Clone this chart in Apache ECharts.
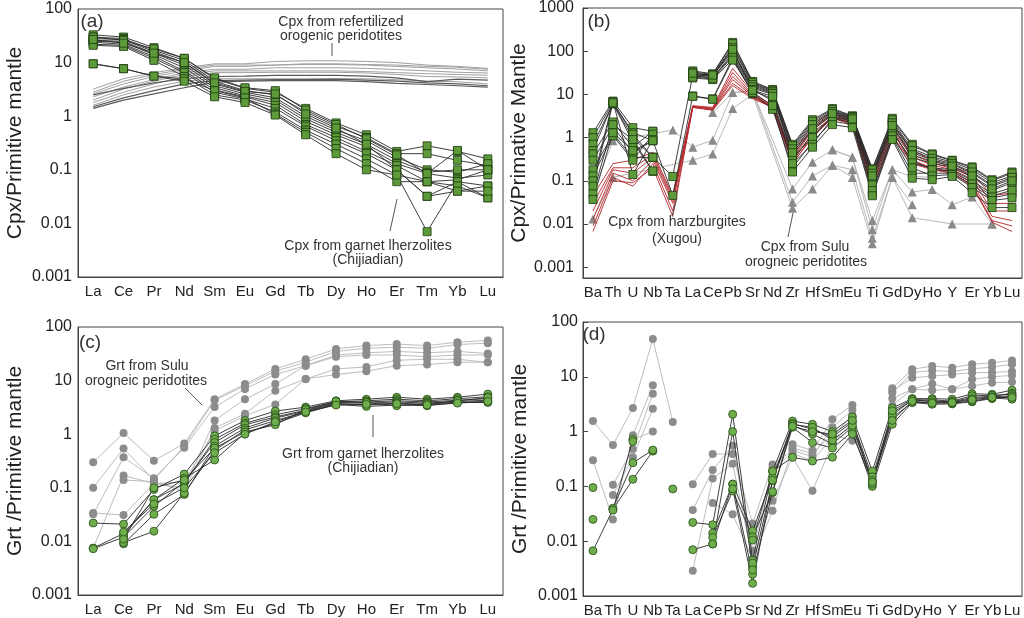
<!DOCTYPE html>
<html><head><meta charset="utf-8">
<script src="https://cdn.jsdelivr.net/npm/echarts@6/dist/echarts.min.js"></script>
<style>html,body{margin:0;padding:0;background:#fff}#c{width:1024px;height:618px}</style>
</head><body><div id="c"></div>
<script>
const REE = ['La','Ce','Pr','Nd','Sm','Eu','Gd','Tb','Dy','Ho','Er','Tm','Yb','Lu'];
const TRACE = ['Ba','Th','U','Nb','Ta','La','Ce','Pb','Sr','Nd','Zr','Hf','Sm','Eu','Ti','Gd','Dy','Ho','Y','Er','Yb','Lu'];

// (a) Cpx REE
const aRefertilized = [
  [3.2,5,6.5,8,9.5,9.5,10.5,10.8,10.8,10.5,10,9,8.5,7.8],
  [2.6,4,5.5,7,8.5,8.5,9,9.2,9.2,9,8.5,8,7.6,7],
  [2.3,3.5,4.8,6.5,7.5,7.5,8,8,8,7.8,7.4,7,6.6,6.4],
  [2.0,3.2,4.5,6,7,7,7,7,7,6.8,6.5,6.2,6,5.8],
  [1.8,2.8,4,5.5,6.5,6.5,6.6,6.6,6.6,6.4,6,5.5,5.4,5.2],
  [2.8,4.5,6,7.5,9,9,9,9.5,9.5,9.2,9,8.5,8.2,7.5],
  [1.6,2.5,3.5,4.5,5,5,5,5,5,5,4.8,4.5,4.4,4]
];
const aRefertilizedDark = [
  [2.5,3.3,4.2,5,5.5,5.6,5.8,5.8,5.8,5.6,5.2,4.4,4.9,4.7],
  [1.5,2.2,3,4,4.6,4.7,4.8,4.8,4.9,4.7,4.5,4.2,4,3.7],
  [1.4,2,2.6,3.4,4.3,4.5,4.6,4.6,4.6,4.4,4.1,3.9,3.7,3.5]
];
const aChijiadian = [
  [33,30,19,12,5,3.3,2.8,1.4,0.75,0.45,0.22,0.28,0.22,0.16],
  [30,28,17,11,4.5,3,2.5,1.2,0.65,0.4,0.2,0.2,0.15,0.12],
  [28,27,16,10,4,2.8,2.2,1.0,0.55,0.35,0.17,0.1,0.09,0.13],
  [26,25,15,9,3.7,2.6,2.0,0.9,0.5,0.3,0.15,0.09,0.1,0.1],
  [25,24,14,8,3.4,2.4,1.8,0.8,0.45,0.27,0.13,0.085,0.07,0.08],
  [24,22,13,7,3.1,2.3,1.6,0.7,0.4,0.22,0.12,0.06,0.065,0.1],
  [22,21,12,6.5,2.8,2.1,1.4,0.65,0.35,0.2,0.1,0.032,0.06,0.05],
  [21,20,11,5.5,2.5,2.0,1.2,0.55,0.3,0.16,0.08,0.007,0.06,0.03],
  [30,26,18,12,5.2,3.4,3.0,1.3,0.7,0.38,0.19,0.085,0.23,0.1],
  [27,23,15,10,4.2,2.9,2.6,1.1,0.6,0.3,0.1,0.032,0.04,0.05],
  [9.5,7.7,5.6,5,3,2.2,1.1,0.5,0.25,0.13,0.06,0.06,0.05,0.03],
  [9.5,7.7,5.6,4.5,2.3,1.8,1.05,0.45,0.2,0.1,0.08,0.06,0.04,0.04]
];

// (b) Cpx trace elements
const bXugou = [
  [0.045,0.25,0.3,0.46,0.045,5.5,5,40,11,5.5,0.42,2.0,4.0,2.8,0.126,2.0,0.5,0.3,0.21,0.15,0.045,0.053],
  [0.03,0.2,0.2,0.4,0.04,5.3,4.8,32,10,5.3,0.35,1.7,3.6,2.5,0.11,1.7,0.4,0.26,0.19,0.13,0.03,0.03],
  [0.02,0.18,0.15,0.35,0.035,5.2,4.6,26,9.5,5.2,0.32,1.5,3.3,2.3,0.1,1.5,0.35,0.23,0.18,0.11,0.02,0.02],
  [0.013,0.15,0.1,0.3,0.03,5.0,4.5,22,9,5.0,0.28,1.3,3.0,2.2,0.085,1.3,0.3,0.2,0.16,0.09,0.015,0.012],
  [0.009,0.12,0.075,0.25,0.02,5.1,4.4,18,8.5,5.1,0.25,1.1,2.8,2.0,0.07,1.1,0.27,0.19,0.15,0.08,0.012,0.009],
  [0.0067,0.1,0.09,0.2,0.015,5.0,4.3,16,8,5.0,0.26,1.0,2.9,2.1,0.063,1.0,0.25,0.18,0.15,0.075,0.011,0.0067]
];
const bSulu = [
  [0.013,0.12,null,null,null,0.3,0.42,4.7,10,null,0.023,0.065,0.23,0.12,0.0035,0.12,0.014,null,0.01,null,0.01,null],
  [0.055,0.84,null,null,1.5,0.6,0.87,11,12,null,0.032,0.13,0.23,0.18,0.0047,0.12,0.028,null,null,null,null,null],
  [null,null,null,null,null,null,3.8,11,12,null,0.065,0.27,0.52,0.35,0.012,0.18,0.126,0.12,null,null,null,null],
  [null,null,null,null,null,null,null,null,null,null,null,null,0.52,0.35,0.0075,0.18,0.055,0.063,0.028,0.042,0.01,null]
];
const bChijiadian = [
  [1.3,7,1.7,1.4,null,35,30,160,20,13,0.7,2.6,4.7,3.2,0.19,2.8,0.7,0.42,0.3,0.21,0.106,0.16],
  [1.0,6.5,1.3,0.85,null,30,28,130,18,12,0.6,2.2,4.2,3.0,0.16,2.4,0.55,0.36,0.27,0.18,0.09,0.13],
  [0.7,6,1.0,0.35,0.126,28,27,100,16,11,0.5,1.8,3.8,2.8,0.14,2.1,0.45,0.3,0.24,0.15,0.075,0.11],
  [0.5,6.2,0.8,0.165,null,26,25,80,14,10,0.4,1.5,3.4,2.6,0.12,1.8,0.35,0.25,0.21,0.12,0.06,0.09],
  [0.42,2.3,0.6,1.4,null,24,22,65,12,8,0.3,1.2,3.0,2.4,0.1,1.5,0.25,0.2,0.18,0.1,0.05,0.07],
  [0.3,1.8,0.45,0.85,0.046,9.2,7.9,70,10.5,4.5,0.2,0.8,2.4,2.0,0.05,1.0,0.15,0.15,0.15,0.08,0.04,0.05],
  [0.18,1.2,0.35,0.35,null,33,29,150,19,12.5,0.65,2.4,4.5,3.1,0.18,2.6,0.65,0.4,0.29,0.2,0.1,0.15],
  [0.13,1.1,0.3,1.2,null,29,26,120,17,11.5,0.55,2.0,4.0,2.9,0.15,2.2,0.5,0.33,0.25,0.16,0.08,0.12],
  [0.1,6.8,0.14,0.9,null,27,24,90,15,10.5,0.35,1.0,3.2,2.5,0.08,1.3,0.3,0.18,0.17,0.09,0.045,0.06],
  [0.075,6.4,1.2,0.35,null,25,23,75,13,7,0.25,0.7,2.8,2.2,0.06,1.1,0.2,0.13,0.14,0.07,0.035,0.04],
  [0.05,2.0,0.9,0.17,null,9.0,7.7,62,11,5.5,0.16,0.6,2.0,1.7,0.045,0.9,0.115,0.106,0.126,0.053,0.024,0.024],
  [0.037,1.3,0.5,0.85,null,31,28,110,12.5,9,0.45,1.6,3.6,2.7,0.13,1.9,0.4,0.28,0.22,0.13,0.065,0.1]
];

// (c) Grt REE
const cSulu = [
  [0.3,1.05,0.32,0.67,4.5,8.6,16.5,25,39,45,48,45,52,56],
  [0.1,0.54,0.14,0.6,4.3,8,15,22,35,40,42,40,47,50],
  [0.032,0.37,0.15,0.56,3.2,7,13,19,30,33,35,33,35,32],
  [0.0075,0.17,0.12,0.1,1.8,4.5,8.6,19,28,30,30,28,30,30],
  [null,0.14,0.13,0.086,1.3,2.4,6.5,10.7,16.5,18,24,25,25,22],
  [0.034,0.031,0.12,0.13,1.15,2.2,3.6,10.7,13,15,19,20,22,22]
];
const cChijiadian = [
  [0.022,0.021,0.093,0.18,0.93,1.8,2.7,3.2,4.2,4.5,4.9,4.5,4.9,5.6],
  [0.0075,0.014,0.06,0.12,0.8,1.6,2.3,3.0,4.0,4.2,4.5,4.2,4.6,5.0],
  [0.0073,0.012,0.045,0.13,0.7,1.5,2.1,2.8,3.9,4.0,4.2,4.0,4.3,4.6],
  [null,0.009,0.032,0.075,0.6,1.3,2.0,2.7,3.8,3.8,4.0,3.8,4.1,4.3],
  [null,0.0095,0.0155,0.08,0.5,1.2,1.8,2.6,3.7,3.5,3.8,3.6,4.0,4.0],
  [null,0.013,0.06,0.15,0.33,1.05,1.6,2.5,3.6,3.3,3.5,3.4,3.9,3.9],
  [null,0.011,0.1,0.14,0.55,1.1,1.5,2.9,4.1,3.9,3.4,3.7,4.2,4.8],
  [null,0.015,0.05,0.1,0.45,1.0,1.7,2.6,3.5,3.6,3.7,3.5,3.8,4.1]
];

// (d) Grt trace elements
const dSulu = [
  [1.56,0.57,2.7,49,1.5,null,null,null,null,null,0.59,0.45,1.68,3.05,null,6.2,13.7,15.7,14.7,16.9,18,19.9],
  [0.3,0.025,0.86,7,null,0.11,0.39,0.39,0.021,0.25,0.45,0.35,1.2,2.5,null,5.1,12,13,12.5,14,15,16.9],
  [null,0.107,0.48,4.9,null,0.037,0.2,0.55,0.0067,0.22,0.4,0.29,0.8,2.0,null,5.5,9.6,10.3,11,11.9,12,12.5],
  [null,0.07,0.34,2.6,null,0.0029,0.14,0.26,0.0047,0.055,0.34,0.083,0.6,1.5,null,4.0,5.9,7.5,5.9,9,10,10.6],
  [null,null,0.72,1.0,null,null,0.05,0.031,0.0047,0.036,0.5,0.4,0.9,0.68,null,3.0,5.9,5.7,5.9,6.8,7.8,8]
];
const dChijiadian = [
  [0.0067,0.038,0.135,0.44,null,0.022,0.02,2.07,0.0045,0.19,1.56,1.36,1.0,1.85,0.19,2.7,4.0,4.0,3.9,4.9,4.8,5.7],
  [null,0.04,0.27,0.46,null,0.007,0.0089,1.0,0.0033,0.126,1.4,1.1,0.8,1.5,0.15,2.2,3.7,3.6,3.5,4.2,4.4,5.0],
  [null,0.037,0.72,null,null,null,0.014,0.11,0.0155,0.15,1.3,0.9,0.6,1.2,0.12,1.8,3.4,3.15,3.2,3.5,4.0,4.4],
  [null,null,0.66,null,null,null,0.0117,0.083,0.012,0.077,1.2,0.63,0.5,1.0,0.1,1.36,3.4,3.4,3.3,3.6,4.1,3.9],
  [null,null,null,null,null,null,0.0089,0.11,0.0025,0.08,1.35,1.2,0.7,1.3,0.13,2.0,3.8,3.8,3.6,4.5,4.6,4.8],
  [null,null,null,null,null,null,null,0.09,0.0017,0.13,1.25,1.0,0.9,1.6,0.11,2.4,3.9,3.5,3.4,4.0,4.3,4.5],
  [null,null,null,null,null,null,null,null,0.0105,0.19,0.34,0.29,0.34,0.9,0.12,1.6,3.6,3.3,3.4,3.8,4.2,4.2],
  [0.095,null,null,null,0.09,null,null,null,0.004,null,null,null,null,null,null,null,null,null,null,null,null,null],
  [0.025,null,null,null,null,null,null,null,0.003,null,null,null,null,null,null,null,null,null,null,null,null,null]
];

const FONT = 'Liberation Sans, Arial, sans-serif';
const GREEN_SQ = '#5c9a3a', GREEN_C = '#6fae4d';

function lines(gi, rows, o) {
  return rows.map(r => ({
    type: 'line', xAxisIndex: gi, yAxisIndex: gi, data: r,
    symbol: o.symbol || 'none', symbolSize: o.size || 0, showSymbol: !!o.symbol, showAllSymbol: true,
    connectNulls: !!o.connect, silent: true, animation: false, z: o.z,
    lineStyle: { color: o.line, width: o.lw },
    itemStyle: { color: o.fill || o.line, borderColor: o.border || o.fill, borderWidth: o.bw || 0, opacity: 1 },
    emphasis: { disabled: true }
  }));
}

function fmtLog(v) {
  const e = Math.log10(v), r = Math.round(e);
  if (Math.abs(e - r) > 1e-6) return '';
  return r >= 0 ? String(Math.round(Math.pow(10, r))) : Math.pow(10, r).toFixed(-r);
}

const grids = [
  { left: 78, top: 9, width: 425, height: 268 },
  { left: 583, top: 5, width: 439, height: 273 },
  { left: 78, top: 327, width: 425, height: 268 },
  { left: 583, top: 322, width: 439, height: 274 }
].map(g => Object.assign(g, { show: true, borderColor: '#444', borderWidth: 1, backgroundColor: 'transparent' }));

const cats = [REE, TRACE, REE, TRACE];
const xAxes = cats.map((c, i) => ({
  type: 'category', gridIndex: i, data: c, boundaryGap: true,
  axisLine: { lineStyle: { color: '#444', width: 1 } },
  axisTick: { inside: true, length: 5, lineStyle: { color: '#444' } },
  axisLabel: { interval: 0, color: '#222', fontSize: 15, fontFamily: FONT, margin: 7 },
  splitLine: { show: false }
}));
const yNames = ['Cpx/Primitive mantle', 'Cpx/Primative Mantle', 'Grt /Primitive mantle', 'Grt /Primitive mantle'];
const yMin = [0.001, Math.pow(10, -3.25), 0.001, 0.001];
const yMax = [100, 1000, 100, 100];
const yTicks = [false, true, false, true];
const yMargin = [6, 9, 6, 5];
const yAxes = yNames.map((n, i) => ({
  type: 'log', logBase: 10, gridIndex: i, min: yMin[i], max: yMax[i],
  name: n, nameLocation: 'middle', nameGap: 52,
  nameTextStyle: { fontSize: 21, color: '#222', fontFamily: FONT },
  axisLine: { show: true, lineStyle: { color: '#444', width: 1 } },
  axisTick: { show: yTicks[i], inside: true, length: 5, lineStyle: { color: '#444' } },
  axisLabel: { color: '#222', fontSize: 16, fontFamily: FONT, margin: yMargin[i], formatter: fmtLog },
  splitLine: { show: false }, minorTick: { show: false }
}));

const series = [].concat(
  lines(0, aRefertilized, { line: '#a0a0a0', lw: 1, z: 2 }),
  lines(0, aRefertilizedDark, { line: '#5a5a5a', lw: 1.2, z: 2 }),
  lines(0, aChijiadian, { line: '#2a2a2a', lw: 0.9, symbol: 'rect', size: 8, fill: GREEN_SQ, border: '#1f3a12', bw: 0.8, z: 4 }),
  lines(1, bSulu, { line: '#b0b0b0', lw: 0.9, symbol: 'triangle', size: 9, fill: '#8a8a8a', border: '#8a8a8a', connect: true, z: 2 }),
  lines(1, bXugou, { line: '#b3262a', lw: 0.9, z: 3 }),
  lines(1, bChijiadian, { line: '#2a2a2a', lw: 0.9, symbol: 'rect', size: 8, fill: GREEN_SQ, border: '#1f3a12', bw: 0.8, z: 4 }),
  lines(2, cSulu, { line: '#b5b5b5', lw: 0.9, symbol: 'circle', size: 8, fill: '#8c8c8c', border: '#8c8c8c', z: 2 }),
  lines(2, cChijiadian, { line: '#2a2a2a', lw: 0.9, symbol: 'circle', size: 8, fill: GREEN_C, border: '#264a16', bw: 0.8, z: 4 }),
  lines(3, dSulu, { line: '#b5b5b5', lw: 0.9, symbol: 'circle', size: 8, fill: '#8c8c8c', border: '#8c8c8c', z: 2 }),
  lines(3, dChijiadian, { line: '#2a2a2a', lw: 0.9, symbol: 'circle', size: 8, fill: GREEN_C, border: '#264a16', bw: 0.8, z: 4 })
);

function txt(x, y, t, size, align) {
  return { type: 'text', x: x, y: y, silent: true, z: 10,
    style: { text: t, fill: '#333', font: size + 'px ' + FONT, textAlign: align || 'center', textVerticalAlign: 'middle' } };
}
function seg(x1, y1, x2, y2) {
  return { type: 'line', silent: true, z: 10, shape: { x1: x1, y1: y1, x2: x2, y2: y2 }, style: { stroke: '#555', lineWidth: 1 } };
}
const graphic = [
  txt(92, 22, '(a)', 19), txt(599, 22, '(b)', 19), txt(90, 343, '(c)', 19), txt(594, 335, '(d)', 19),
  txt(341, 22, 'Cpx from refertilized', 14), txt(341, 36, 'orogenic peridotites', 14), seg(332, 43, 332, 56),
  txt(368, 246, 'Cpx from garnet lherzolites', 14), txt(368, 260, '(Chijiadian)', 14), seg(397, 199, 390, 231),
  txt(677, 222, 'Cpx from harzburgites', 14), txt(677, 239, '(Xugou)', 14), seg(672, 216, 677, 198),
  txt(805, 247, 'Cpx from Sulu', 14), txt(806, 262, 'orogneic peridotites', 14), seg(788, 237, 793, 213),
  txt(147, 366, 'Grt from Sulu', 14), txt(146, 381, 'orogneic peridotites', 14), seg(185, 388, 202, 405),
  txt(363, 454, 'Grt from garnet lherzolites', 14), txt(363, 468, '(Chijiadian)', 14), seg(373, 415, 373, 437)
];

const chart = echarts.init(document.getElementById('c'), null, { renderer: 'canvas' });
chart.setOption({
  animation: false, backgroundColor: '#fff',
  textStyle: { fontFamily: FONT },
  grid: grids, xAxis: xAxes, yAxis: yAxes, series: series, graphic: graphic
});
</script></body></html>
